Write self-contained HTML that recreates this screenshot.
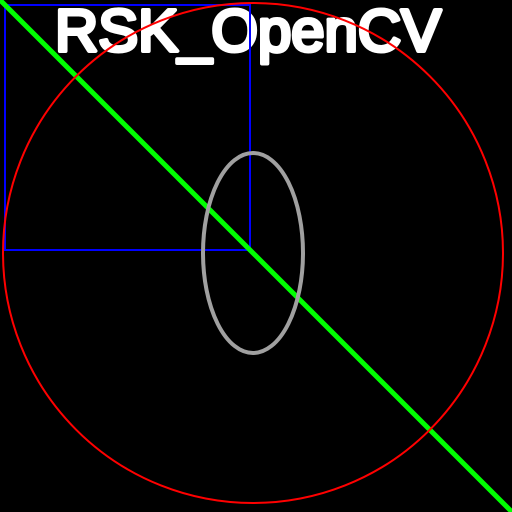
<!DOCTYPE html>
<html><head><meta charset="utf-8"><style>html,body{margin:0;padding:0;background:#000}svg{display:block}</style></head>
<body>
<svg width="512" height="512" viewBox="0 0 512 512">
<rect x="0" y="0" width="512" height="512" fill="#000"/>
<text x="55" y="51" fill="#fff" font-family="Liberation Sans, sans-serif" font-size="59" stroke="#fff" stroke-width="4" stroke-linejoin="round" textLength="386" lengthAdjust="spacingAndGlyphs">RSK_OpenCV</text>
<rect x="5" y="5" width="245" height="245" fill="none" stroke="#0000ff" stroke-width="2"/>
<line x1="0" y1="0" x2="512" y2="512" stroke="#00ff00" stroke-width="5"/>
<circle cx="253" cy="253" r="250" fill="none" stroke="#ff0000" stroke-width="2"/>
<ellipse cx="253" cy="253" rx="50" ry="100" fill="none" stroke="#a0a0a0" stroke-width="4"/>
</svg>
</body></html>
